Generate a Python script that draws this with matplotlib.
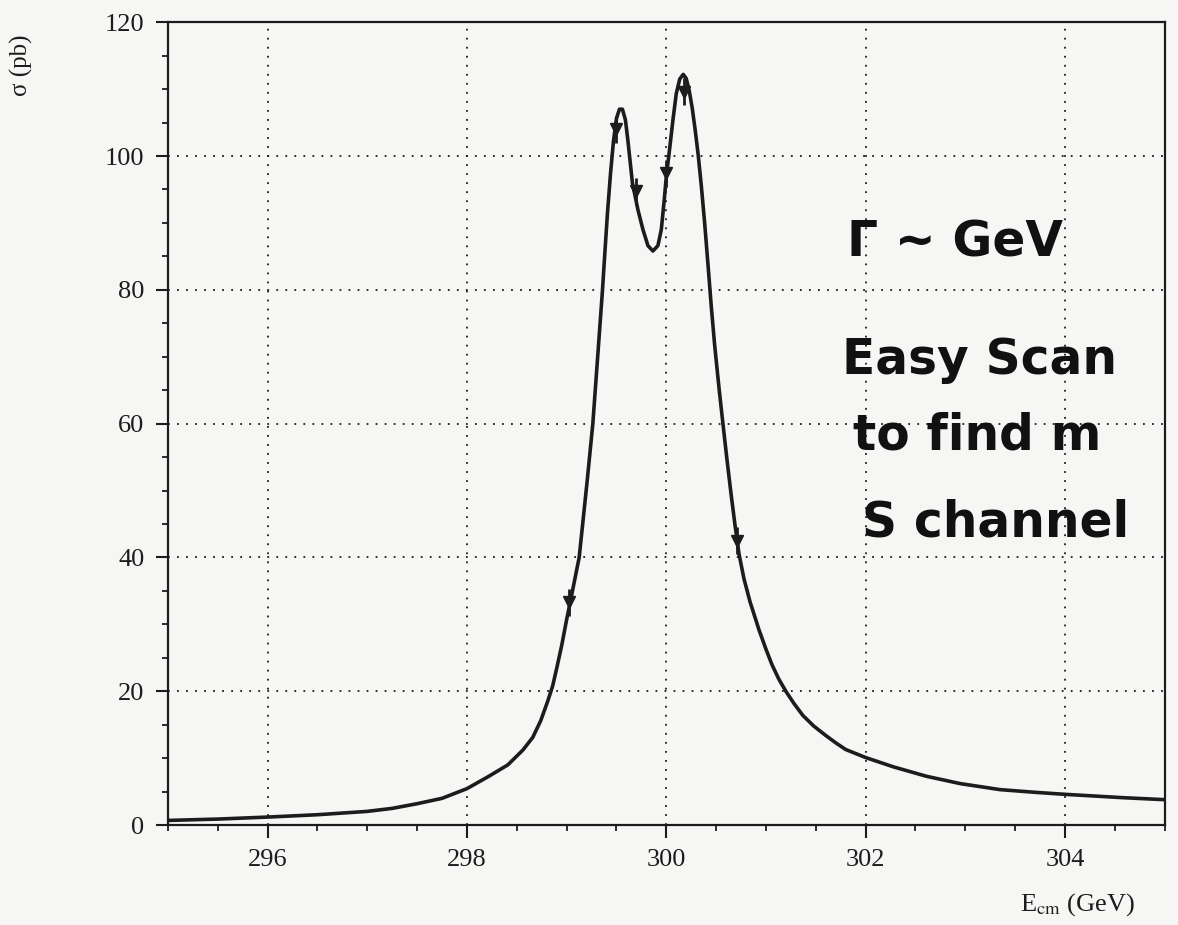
import numpy as np
import matplotlib.pyplot as plt

# Cross section line shape (GeV, pb)
e_curve = [295.0, 295.5, 296.0, 296.5, 297.0, 297.25, 297.5, 297.75, 298.0,
           298.22, 298.41, 298.56, 298.66, 298.74, 298.81, 298.86, 298.90,
           298.95, 299.0, 299.04, 299.126, 299.206, 299.263, 299.317, 299.36,
           299.384, 299.41, 299.44, 299.47, 299.50, 299.53, 299.56, 299.59,
           299.615, 299.66, 299.715, 299.766, 299.816, 299.866, 299.916,
           299.95, 299.98, 300.0, 300.03, 300.067, 300.10, 300.135, 300.17,
           300.20, 300.23, 300.26, 300.29, 300.32, 300.35, 300.385, 300.42,
           300.45, 300.485, 300.53, 300.57, 300.61, 300.65, 300.69, 300.73,
           300.78, 300.84, 300.93, 301.0, 301.06, 301.13, 301.20, 301.28,
           301.37, 301.48, 301.60, 301.70, 301.80, 302.0, 302.28, 302.61,
           302.95, 303.35, 303.7, 304.0, 304.58, 305.0]
sigma_curve = [0.7, 0.9, 1.2, 1.55, 2.05, 2.5, 3.2, 4.0, 5.45,
               7.3, 9.0, 11.2, 13.1, 15.6, 18.5, 20.8, 23.4,
               26.8, 30.7, 33.6, 40.0, 51.4, 60.0, 71.1, 80.0,
               85.6, 91.5, 97.3, 102.2, 105.6, 107.0, 107.0, 105.4,
               102.3, 96.0, 92.0, 89.0, 86.6, 85.8, 86.6,
               89.0, 93.5, 96.9, 100.6, 105.4, 109.3, 111.5, 112.2,
               111.6, 109.8, 107.2, 103.9, 100.2, 95.8, 90.0, 83.5,
               77.8, 71.8, 65.2, 59.8, 54.5, 49.5, 44.8, 40.5,
               36.8, 33.4, 29.2, 26.3, 24.0, 21.8, 20.0, 18.2,
               16.4, 14.8, 13.4, 12.3, 11.3, 10.1, 8.7, 7.3,
               6.2, 5.3, 4.9, 4.6, 4.1, 3.8]

# Scan points
e_scan = [299.02, 299.50, 299.70, 300.0, 300.18, 300.71]
sigma_scan = [33.3, 104.0, 94.7, 97.4, 109.6, 42.5]
sigma_err = [2.0, 2.0, 2.0, 2.0, 2.0, 2.0]

x_ticks = [296, 298, 300, 302, 304]
y_ticks = [0, 20, 40, 60, 80, 100, 120]

notes = ['Γ ~ GeV', 'Easy Scan', 'to find m', 'S channel']
note_x = [302.9, 303.14, 303.12, 303.3]
note_y = [87.0, 69.5, 58.2, 45.2]

plt.rcParams['font.family'] = ['Liberation Serif', 'DejaVu Serif']
plt.rcParams['mathtext.fontset'] = 'stix'

paper = '#f6f6f4'
ink = '#1c1c1c'

fig = plt.figure(figsize=(11.78, 9.25), dpi=100, facecolor=paper)
ax = fig.add_axes([0.1426, 0.108, 0.846, 0.868], facecolor=paper)

ax.plot(e_curve, sigma_curve, color=ink, lw=2.6, solid_joinstyle='round')
ax.errorbar(e_scan, sigma_scan, yerr=sigma_err, fmt='v', color=ink,
            ms=8, elinewidth=2, capsize=0, zorder=3)

ax.set_xlim(295, 305)
ax.set_ylim(0, 120)
ax.set_xticks(x_ticks)
ax.set_yticks(y_ticks)
ax.set_xticks(np.arange(295, 305.01, 0.5), minor=True)
ax.set_yticks(np.arange(0, 120.01, 5), minor=True)
ax.tick_params(which='major', direction='out', length=9, width=1.5,
               labelsize=19, colors=ink, pad=8)
ax.tick_params(which='minor', direction='out', length=4.5, width=1.3,
               colors=ink)

for x in x_ticks:
    ax.axvline(x, color=ink, lw=1.3, ls=(0, (1, 4)), zorder=1)
for y in y_ticks[1:-1]:
    ax.axhline(y, color=ink, lw=1.3, ls=(0, (1, 4)), zorder=1)

for side in ax.spines.values():
    side.set_linewidth(1.6)
    side.set_color(ink)

fig.text(0.018, 0.93, 'σ (pb)', rotation=90, fontsize=18, color=ink,
         ha='center', va='center')
fig.text(0.915, 0.022, r'E$_{\mathrm{cm}}$ (GeV)', fontsize=19, color=ink,
         ha='center', va='center')

for text, x, y in zip(notes, note_x, note_y):
    ax.text(x, y, text, fontsize=35, fontweight='bold', color='#111111',
            family=['DejaVu Sans'], ha='center', va='center')

fig.savefig('out.png', dpi=100, facecolor=paper)
